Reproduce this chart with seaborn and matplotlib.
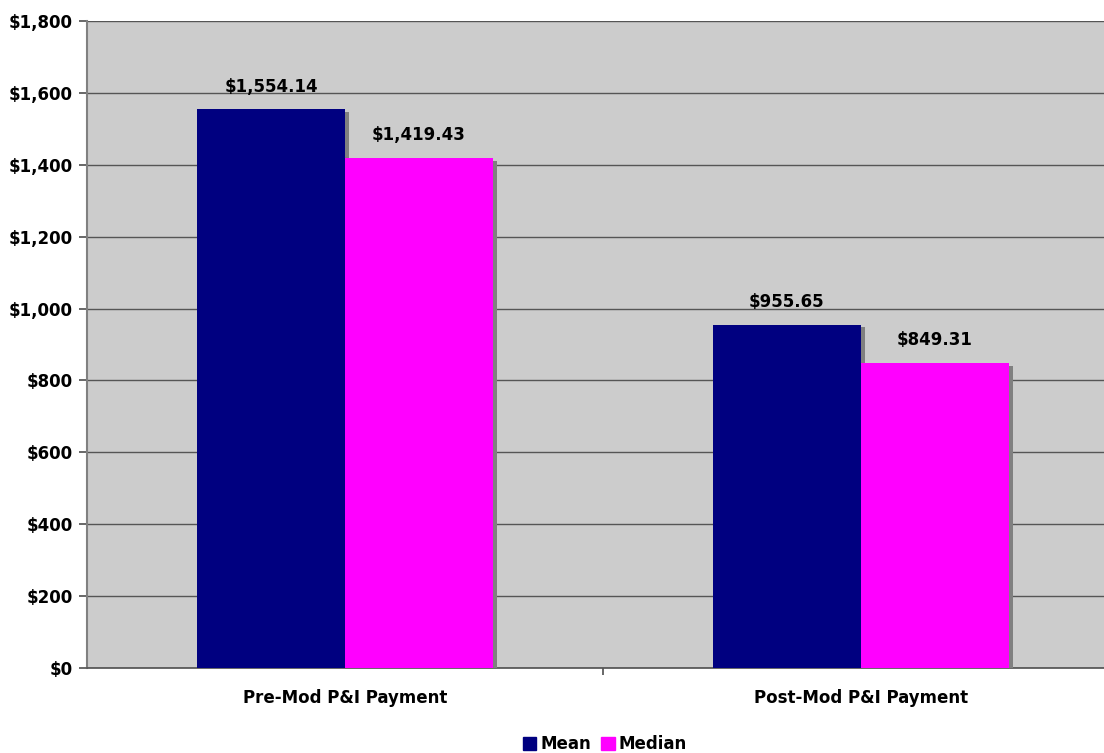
import matplotlib
matplotlib.use("Agg")
import matplotlib.pyplot as plt
import matplotlib.patheffects as pe
from matplotlib.ticker import FuncFormatter, MultipleLocator
import pandas as pd
import seaborn as sns

categories = ["Pre-Mod P&I Payment", "Post-Mod P&I Payment"]
series = ["Mean", "Median"]
mean_vals = [1554.14, 955.65]
median_vals = [1419.43, 849.31]
colors = ["#000080", "#FF00FF"]

df = pd.DataFrame({
    "category": categories * 2,
    "stat": [series[0]] * 2 + [series[1]] * 2,
    "value": mean_vals + median_vals,
})

sns.set_theme(style="white", rc={"text.color": "black", "xtick.color": "black",
                                 "ytick.color": "black", "axes.labelcolor": "black"})
plt.rcParams["font.family"] = ["DejaVu Sans"]

fig = plt.figure(figsize=(11.04, 7.53), dpi=100)
ax = fig.add_axes([0.0788, 0.1129, 0.9212, 0.8591])
ax.set_facecolor("#CCCCCC")

sns.barplot(data=df, x="category", y="value", hue="stat", palette=colors,
            width=0.574, ax=ax, legend=False, zorder=3, saturation=1)

# excel-style drop shadow on the bars
shadow = [pe.SimplePatchShadow(offset=(3, -2), shadow_rgbFace="#808080", alpha=1), pe.Normal()]
for bar in ax.patches:
    bar.set_edgecolor("none")
    bar.set_path_effects(shadow)

for cont in ax.containers:
    ax.bar_label(cont, labels=[f"${v:,.2f}" for v in cont.datavalues],
                 padding=10, fontsize=12, fontweight="bold", color="black")

ax.set_xlim(-0.5, 1.471)
ax.set_ylim(0, 1800)
ax.yaxis.set_major_locator(MultipleLocator(200))
ax.yaxis.set_major_formatter(FuncFormatter(lambda v, p: f"${v:,.0f}"))
ax.grid(axis="y", color="#555555", linewidth=1, zorder=1)
ax.set_axisbelow(True)

ax.set_xticks([0.5], minor=False)
ax.set_xticks([0, 1], minor=True)
ax.set_xticklabels([""])
ax.set_xticklabels(categories, minor=True)
ax.tick_params(axis="x", which="major", length=5, color="#555555", direction="out", bottom=True)
ax.tick_params(axis="x", which="minor", length=0, pad=15, labelsize=12, labelcolor="black")
ax.tick_params(axis="y", length=6, color="#555555", direction="out", left=True,
               labelsize=12, pad=4, labelcolor="black")
for lbl in ax.get_xticklabels(minor=True) + ax.get_yticklabels():
    lbl.set_fontweight("bold")

ax.set_xlabel("")
ax.set_ylabel("")
for side in ["top", "right"]:
    ax.spines[side].set_visible(False)
ax.spines["left"].set_color("#808080")
ax.spines["left"].set_linewidth(1.5)
ax.spines["bottom"].set_color("#555555")

handles = [plt.Rectangle((0, 0), 1, 1, color=c) for c in colors]
fig.legend(handles, series, loc="lower center", bbox_to_anchor=(0.548, -0.02), ncol=2,
           frameon=False, handlelength=0.8, handleheight=0.8, handletextpad=0.25,
           columnspacing=0.6, prop={"weight": "bold", "size": 12})

fig.savefig("out.png", dpi=100)
